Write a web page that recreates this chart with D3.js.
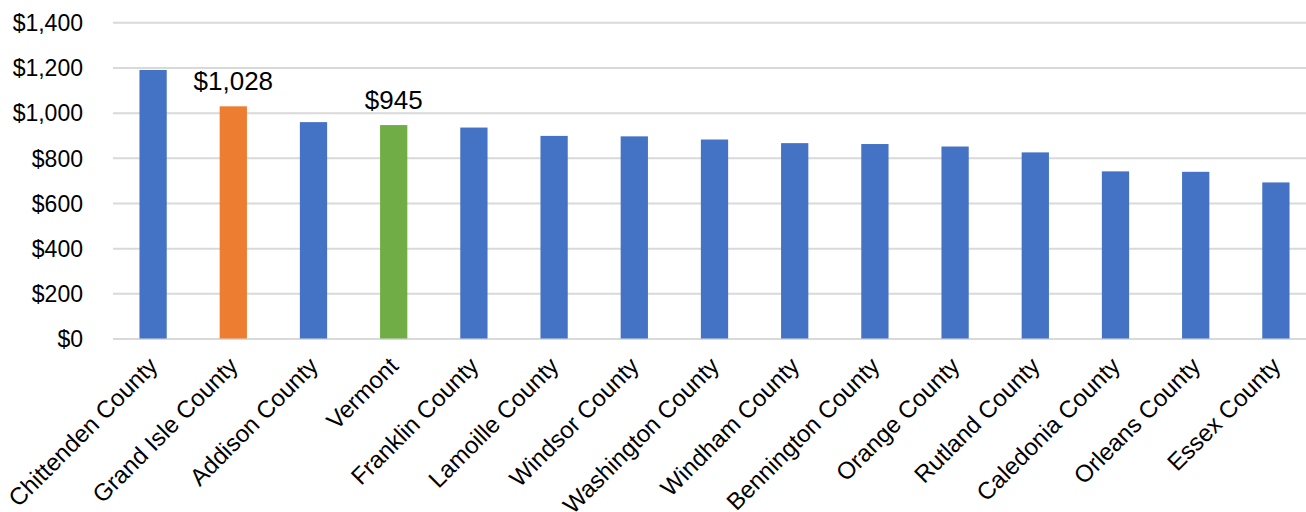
<!DOCTYPE html>
<html lang="en">
<head>
    <meta charset="UTF-8">
    <title>Vermont counties bar chart</title>
    <script src="https://d3js.org/d3.v7.min.js"></script>
    <style>
        body { margin: 0; background: #fff; }
        text { font-family: "Liberation Sans", Arial, sans-serif; fill: #000; }
    </style>
</head>
<body>
    <script>
        // values
        var counties = ["Chittenden County", "Grand Isle County", "Addison County", "Vermont",
            "Franklin County", "Lamoille County", "Windsor County", "Washington County",
            "Windham County", "Bennington County", "Orange County", "Rutland County",
            "Caledonia County", "Orleans County", "Essex County"];
        var amounts = [1189, 1028, 958, 945, 934, 897, 895, 881, 865, 861, 850, 824, 740, 738, 691];
        var yTicks = [0, 200, 400, 600, 800, 1000, 1200, 1400];
        var labelled = ["Grand Isle County", "Vermont"];

        var data = counties.map(function(c, i) { return {name: c, value: amounts[i]}; });

        var W = 1306, H = 512;
        var plotLeft = 113, plotRight = 1316, plotTop = 22.3, plotBottom = 338.5;

        var svg = d3.select("body").append("svg")
            .attr("width", W)
            .attr("height", H);

        var x = d3.scaleBand().domain(counties).range([plotLeft, plotRight])
            .paddingInner(0.66).paddingOuter(0.33);
        var y = d3.scaleLinear().domain([0, 1400]).range([plotBottom, plotTop]);

        var money = function(d) { return "$" + d3.format(",")(d); };

        function barColor(name) {
            if (name == "Grand Isle County") return "#ED7D31";
            if (name == "Vermont") return "#70AD47";
            return "#4472C4";
        }

        // gridlines + y labels
        var yAxis = svg.append("g")
            .attr("transform", "translate(" + plotLeft + ",0)")
            .call(d3.axisLeft(y).tickValues(yTicks).tickSize(-(plotRight - plotLeft)).tickPadding(30).tickFormat(money));
        yAxis.select(".domain").remove();
        yAxis.selectAll(".tick line").attr("stroke", "#D9D9D9").attr("stroke-width", 2);
        yAxis.selectAll(".tick text").style("font-size", "23px").attr("dy", "0.36em");

        // bars
        svg.selectAll(".bar")
            .data(data)
            .enter().append("rect")
            .attr("class", "bar")
            .attr("x", function(d) { return x(d.name); })
            .attr("width", x.bandwidth())
            .attr("y", function(d) { return y(d.value); })
            .attr("height", function(d) { return y(0) - y(d.value); })
            .attr("fill", function(d) { return barColor(d.name); });

        // data labels on the two highlighted bars
        svg.selectAll(".lbl")
            .data(data.filter(function(d) { return labelled.indexOf(d.name) >= 0; }))
            .enter().append("text")
            .attr("class", "lbl")
            .attr("x", function(d) { return x(d.name) + x.bandwidth() / 2; })
            .attr("y", function(d) { return y(d.value) - 16; })
            .attr("text-anchor", "middle")
            .style("font-size", "26px")
            .text(function(d) { return money(d.value); });

        // x axis labels, rotated
        var xAxis = svg.append("g")
            .attr("transform", "translate(0," + plotBottom + ")")
            .call(d3.axisBottom(x).tickSize(0).tickPadding(0));
        xAxis.select(".domain").remove();
        xAxis.selectAll("text")
            .style("font-size", "24px")
            .style("text-anchor", "end")
            .attr("y", 0)
            .attr("dy", 0)
            .attr("transform", "translate(6,29) rotate(-45)");
    </script>
</body>
</html>
